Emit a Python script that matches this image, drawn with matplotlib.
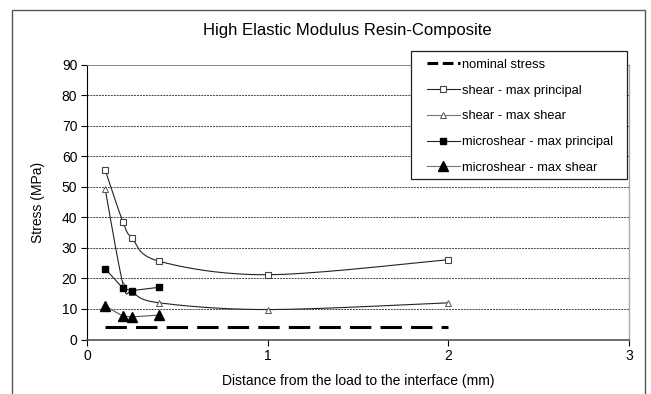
import numpy as np
import matplotlib
matplotlib.use("Agg")
import matplotlib.pyplot as plt
from matplotlib.patches import Rectangle
from matplotlib.lines import Line2D

plt.rcParams['font.family'] = ['Liberation Sans', 'DejaVu Sans']

# data
dist = [0.1, 0.2, 0.25, 0.4, 1.0, 2.0]
shear_max_principal = [55.6, 38.3, 33.1, 25.6, 21.2, 26.1]
shear_max_shear = [49.4, 17.9, 15.5, 12.0, 9.8, 12.0]

micro_dist = [0.1, 0.2, 0.25, 0.4]
micro_max_principal = [23.2, 16.7, 16.0, 17.1]
micro_max_shear = [11.0, 7.6, 7.4, 8.0]

nominal_x = [0.1, 2.0]
nominal_y = [4.0, 4.0]


def smooth(x, y, n=30):
    """Excel-like smoothed line: Catmull-Rom style Bezier through the points."""
    p = np.column_stack([x, y]).astype(float)
    ext = np.vstack([p[0], p, p[-1]])
    out = []
    t = np.linspace(0, 1, n)[:, None]
    for i in range(len(p) - 1):
        p0, p1, p2, p3 = ext[i], ext[i + 1], ext[i + 2], ext[i + 3]
        c1 = p1 + (p2 - p0) / 6.0
        c2 = p2 - (p3 - p1) / 6.0
        seg = ((1 - t) ** 3) * p1 + 3 * ((1 - t) ** 2) * t * c1 \
            + 3 * (1 - t) * t ** 2 * c2 + t ** 3 * p2
        out.append(seg if i == 0 else seg[1:])
    out = np.vstack(out)
    return out[:, 0], out[:, 1]


W, H = 651, 394
fig = plt.figure(figsize=(6.51, 3.94), dpi=100)
ax = fig.add_axes([87 / W, 1 - 339.5 / H, 542 / W, 275 / H])

# outer chart border
fig.patches.append(Rectangle((12 / W, -0.05), 633 / W, 1.05 - 10 / H,
                             transform=fig.transFigure, fill=False,
                             edgecolor='#555555', linewidth=1.0))

dark = '#222222'
grey = '#777777'

# nominal stress
ax.plot(nominal_x, nominal_y, color='black', linewidth=2.2,
        dashes=(7, 3), zorder=3)

# shear - max principal
sx, sy = smooth(dist, shear_max_principal)
ax.plot(sx, sy, color=dark, linewidth=0.8, zorder=3)
ax.plot(dist, shear_max_principal, linestyle='none', marker='s', markersize=4.2,
        markerfacecolor='white', markeredgecolor='#444444', markeredgewidth=0.8, zorder=4)

# shear - max shear
sx, sy = smooth(dist, shear_max_shear)
ax.plot(sx, sy, color=dark, linewidth=0.8, zorder=3)
ax.plot(dist, shear_max_shear, linestyle='none', marker='^', markersize=4.5,
        markerfacecolor='white', markeredgecolor='#555555', markeredgewidth=0.7, zorder=4)

# microshear - max principal
ax.plot(micro_dist, micro_max_principal, color=dark, linewidth=0.8,
        marker='s', markersize=5, markerfacecolor='black', markeredgecolor='black', zorder=4)

# microshear - max shear
ax.plot(micro_dist, micro_max_shear, color='#555555', linewidth=0.8,
        marker='^', markersize=6.5, markerfacecolor='black', markeredgecolor='black', zorder=4)

# legend
handles = [
    Line2D([], [], color='black', linewidth=2.2, dashes=(3.5, 1.5)),
    Line2D([], [], color=dark, linewidth=0.8, marker='s', markersize=4.2,
           markerfacecolor='white', markeredgecolor='#444444', markeredgewidth=0.8),
    Line2D([], [], color=grey, linewidth=0.8, marker='^', markersize=4.5,
           markerfacecolor='white', markeredgecolor='#555555', markeredgewidth=0.7),
    Line2D([], [], color=dark, linewidth=0.8, marker='s', markersize=5,
           markerfacecolor='black', markeredgecolor='black'),
    Line2D([], [], color=grey, linewidth=0.8, marker='^', markersize=6.5,
           markerfacecolor='black', markeredgecolor='black'),
]
labels = ['nominal stress', 'shear - max principal', 'shear - max shear',
          'microshear - max principal', 'microshear - max shear']
fig.legend(handles, labels, loc='upper left',
           bbox_to_anchor=(421 / W, 1 - 53 / H), bbox_transform=fig.transFigure,
           fontsize=9.3, frameon=False,
           handlelength=2.55, handletextpad=0.15, labelspacing=1.06,
           borderpad=0.45, borderaxespad=0)
fig.patches.append(Rectangle((411 / W, 1 - 179 / H), 216 / W, 128 / H,
                             transform=fig.transFigure, facecolor='white',
                             edgecolor='#222222', linewidth=0.9, zorder=5))
fig.legends[0].set_zorder(6)

ax.set_xlim(0, 3)
ax.set_ylim(0, 90)
ax.set_xticks([0, 1, 2, 3])
ax.set_yticks(np.arange(0, 91, 10))
ax.tick_params(axis='both', direction='out', length=4, width=0.8,
               labelsize=10, colors='black', pad=3)

for yv in range(10, 91, 10):
    ax.axhline(yv, color='#444444', linewidth=0.7, linestyle=(0, (2, 1)), zorder=1)

ax.spines['left'].set_color('black')
ax.spines['bottom'].set_color('#555555')
ax.spines['bottom'].set_linewidth(1.2)
ax.spines['top'].set_color('#888888')
ax.spines['top'].set_linewidth(0.7)
ax.spines['right'].set_color('#aaaaaa')
ax.spines['right'].set_linewidth(1.0)

ax.set_xlabel('Distance from the load to the interface (mm)', fontsize=10, labelpad=8)
ax.set_ylabel('Stress (MPa)', fontsize=10, labelpad=12)
fig.text(347 / W, 1 - 31 / H, 'High Elastic Modulus Resin-Composite',
         fontsize=12, ha='center', va='center')

fig.savefig('out.png', dpi=100)
